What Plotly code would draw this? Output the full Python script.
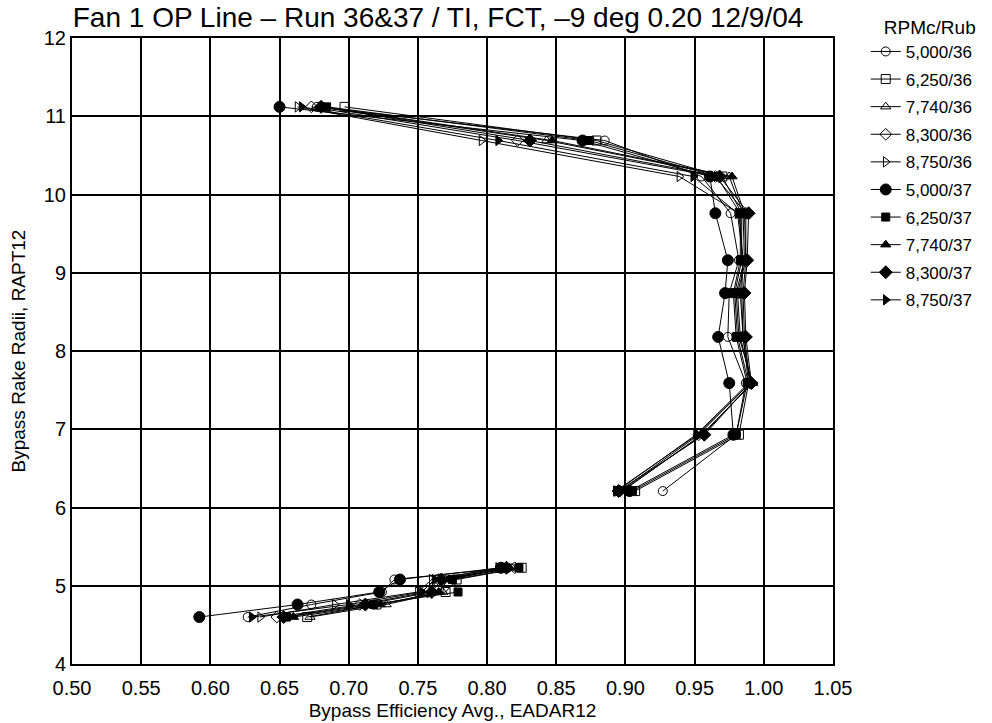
import plotly.graph_objects as go

# Rake radii (y) for the lower and upper groups
radii_low = [4.60, 4.76, 4.92, 5.08, 5.23]
radii_up = [6.21, 6.93, 7.59, 8.18, 8.74, 9.16, 9.76, 10.23, 10.69, 11.12]

labels = ["5,000/36", "6,250/36", "7,740/36", "8,300/36", "8,750/36",
          "5,000/37", "6,250/37", "7,740/37", "8,300/37", "8,750/37"]

# Efficiency (x) for each series, lower group then upper group
eff_low = [
    [0.627, 0.673, 0.724, 0.733, 0.815],
    [0.670, 0.720, 0.770, 0.778, 0.825],
    [0.672, 0.727, 0.768, 0.770, 0.818],
    [0.648, 0.708, 0.757, 0.765, 0.820],
    [0.636, 0.690, 0.750, 0.760, 0.812],
    [0.592, 0.663, 0.722, 0.737, 0.810],
    [0.655, 0.718, 0.779, 0.775, 0.823],
    [0.660, 0.723, 0.765, 0.772, 0.816],
    [0.653, 0.712, 0.760, 0.767, 0.814],
    [0.630, 0.700, 0.753, 0.762, 0.808],
]
eff_up = [
    [0.927, 0.980, 0.987, 0.974, 0.975, 0.982, 0.976, 0.955, 0.885, 0.677],
    [0.907, 0.982, 0.989, 0.981, 0.979, 0.984, 0.984, 0.970, 0.879, 0.697],
    [0.898, 0.955, 0.992, 0.982, 0.980, 0.986, 0.985, 0.975, 0.843, 0.679],
    [0.896, 0.953, 0.990, 0.986, 0.985, 0.987, 0.987, 0.965, 0.822, 0.673],
    [0.894, 0.951, 0.989, 0.985, 0.983, 0.985, 0.982, 0.939, 0.796, 0.663],
    [0.903, 0.978, 0.975, 0.967, 0.972, 0.974, 0.965, 0.961, 0.869, 0.650],
    [0.905, 0.980, 0.988, 0.980, 0.978, 0.983, 0.983, 0.966, 0.874, 0.684],
    [0.897, 0.956, 0.991, 0.983, 0.981, 0.987, 0.986, 0.977, 0.847, 0.682],
    [0.895, 0.957, 0.991, 0.987, 0.986, 0.988, 0.989, 0.968, 0.831, 0.680],
    [0.893, 0.952, 0.990, 0.985, 0.984, 0.985, 0.981, 0.949, 0.808, 0.666],
]

symbols = ["circle-open", "square-open", "triangle-up-open", "diamond-open", "triangle-right-open",
           "circle", "square", "triangle-up", "diamond", "triangle-right"]
sizes = [9, 9, 9, 9, 9, 11, 8, 9, 10, 9]

x_ticks = [0.50, 0.55, 0.60, 0.65, 0.70, 0.75, 0.80, 0.85, 0.90, 0.95, 1.00, 1.05]
y_ticks = [4, 5, 6, 7, 8, 9, 10, 11, 12]

FONT = "Liberation Sans"

fig = go.Figure()
for i, lab in enumerate(labels):
    xs = eff_low[i] + [None] + eff_up[i]
    ys = radii_low + [None] + radii_up
    fig.add_trace(go.Scatter(
        x=xs, y=ys, name=lab, mode="lines+markers",
        connectgaps=False, legendgroup=lab,
        line=dict(color="black", width=1),
        marker=dict(symbol=symbols[i], size=sizes[i], color="black",
                    line=dict(color="black", width=1)),
    ))

fig.update_layout(
    width=992, height=723,
    margin=dict(l=72, r=159, t=38, b=59, autoexpand=False),
    paper_bgcolor="white", plot_bgcolor="white",
    font=dict(family=FONT, color="black"),
    title=dict(text="Fan 1 OP Line \u2013 Run 36&37 / TI, FCT, \u20139 deg 0.20 12/9/04",
               x=0.481, xref="paper", xanchor="center", y=1 - 17 / 723, yref="container",
               yanchor="middle", font=dict(size=28, family=FONT, color="black")),
    legend=dict(x=1.043, xanchor="left", y=1.046, yanchor="top",
                title=dict(text="RPMc/Rub", side="top right", font=dict(size=19)),
                font=dict(size=17, family=FONT), tracegroupgap=2.5,
                bgcolor="rgba(0,0,0,0)"),
    showlegend=True,
)
fig.update_xaxes(range=[0.50, 1.05], tickvals=x_ticks, ticktext=[f"{v:.2f}" for v in x_ticks],
                 showgrid=True, gridcolor="black", gridwidth=1.5,
                 showline=True, linecolor="black", linewidth=2, mirror=True,
                 ticks="", zeroline=False, tickfont=dict(size=20), ticklabelstandoff=5,
                 title=dict(text="Bypass Efficiency Avg., EADAR12", font=dict(size=19), standoff=6))
fig.update_yaxes(range=[4, 12], tickvals=y_ticks,
                 showgrid=True, gridcolor="black", gridwidth=1.5,
                 showline=True, linecolor="black", linewidth=2, mirror=True,
                 ticks="", zeroline=False, tickfont=dict(size=20),
                 title=dict(text="Bypass Rake Radii, RAPT12", font=dict(size=19), standoff=13))

fig.write_html("out.html")
